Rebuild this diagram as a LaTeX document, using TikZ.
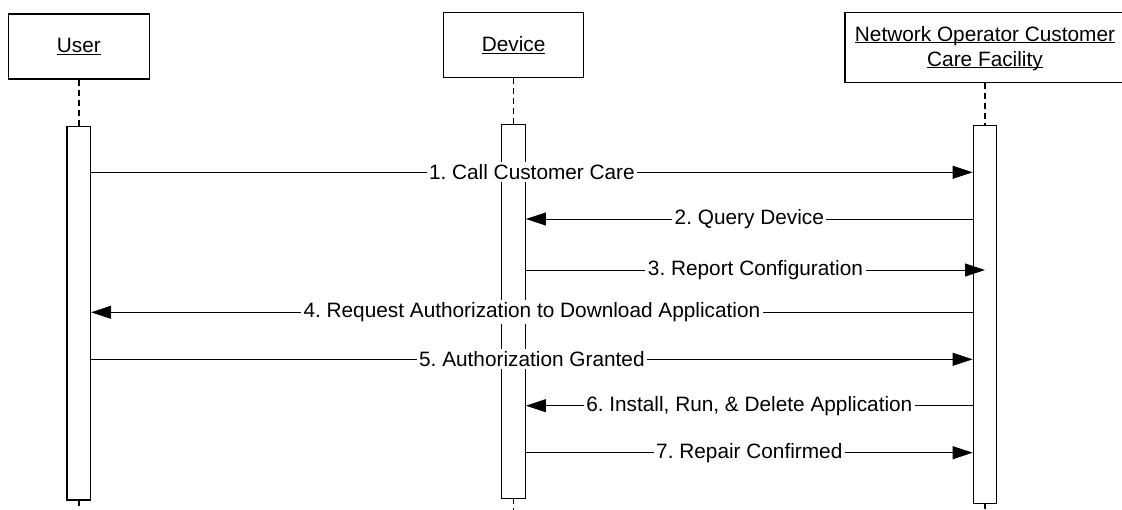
\documentclass[tikz,border=0pt]{standalone}
\usepackage{fontspec}
\setmainfont{Liberation Sans}
\usetikzlibrary{arrows.meta,positioning}
\newcommand{\barw}{23.5pt}
\newcommand{\headw}{141pt}
\newcommand{\ulabel}[1]{\underline{\raisebox{0pt}[\height][0pt]{#1}}}
\frenchspacing

\begin{document}
\begin{tikzpicture}[x=1pt,y=-1pt]
	\tikzset{
		actor/.style = {draw, line width=1.2pt, fill=white, inner sep=0pt,
			minimum height=65pt, align=center},
		lifeline/.style = {line width=1.7pt, dash pattern=on 6pt off 4pt},
		activebar/.style = {draw, line width=1.2pt, fill=white, inner sep=0pt,
			minimum width=\barw, anchor=north},
		msg/.style = {line width=0.9pt, -{Triangle[length=20pt,width=13pt]}},
		msgtext/.style = {fill=white, inner sep=2.5pt}
	}
	\useasboundingbox (0,0) rectangle (1122,510);
	\fontsize{20.8}{25}\selectfont
	%\draw[help lines] (0,0) grid (1122,510);
	% heads
	\node[actor, minimum width=\headw] (user) at (78.8,46.5) {\ulabel{User}};
	\node[actor, minimum width=140pt] (device) at (513.6,45) {\ulabel{Device}};
	\node[actor, minimum width=280pt, minimum height=70pt] (noc) at (985,47.2)
		{\ulabel{Network Operator Customer}\\\ulabel{Care Facility}};
	% lifelines
	\coordinate (userend) at (78.8,512);
	\coordinate (deviceend) at (513.6,512);
	\coordinate (nocend) at (985,512);
	\draw[lifeline] (user.south) -- (userend);
	\draw[lifeline] (device.south) -- (deviceend);
	\draw[lifeline] (noc.south) -- (nocend);
	% activations
	\node[activebar, minimum height=373pt] (userbar) at (78.8,126.3) {};
	\node[activebar, minimum height=374pt] (devicebar) at (513.6,124) {};
	\node[activebar, minimum height=377.7pt] (nocbar) at (985,125) {};
	% messages
	\coordinate (m1) at (0,172.3);
	\coordinate (m2) at (0,219);
	\coordinate (m3) at (0,270);
	\coordinate (m4) at (0,312.3);
	\coordinate (m5) at (0,359.3);
	\coordinate (m6) at (0,405.7);
	\coordinate (m7) at (0,452.7);
	\draw[msg] (userbar.east |- m1) -- node[msgtext] {1. Call Customer Care} (nocbar.west |- m1);
	\draw[msg] (nocbar.west |- m2) -- node[msgtext] {2. Query Device} (devicebar.east |- m2);
	\draw[msg] (devicebar.east |- m3) -- node[msgtext] {3. Report Configuration} (nocbar.north |- m3);
	\draw[msg] (nocbar.west |- m4) -- node[msgtext] {4. Request Authorization to Download Application} (userbar.east |- m4);
	\draw[msg] (userbar.east |- m5) -- node[msgtext] {5. Authorization Granted} (nocbar.west |- m5);
	\draw[msg] (nocbar.west |- m6) -- node[msgtext] {6. Install, Run, \& Delete Application} (devicebar.east |- m6);
	\draw[msg] (devicebar.east |- m7) -- node[msgtext] {7. Repair Confirmed} (nocbar.west |- m7);
\end{tikzpicture}
\end{document}
